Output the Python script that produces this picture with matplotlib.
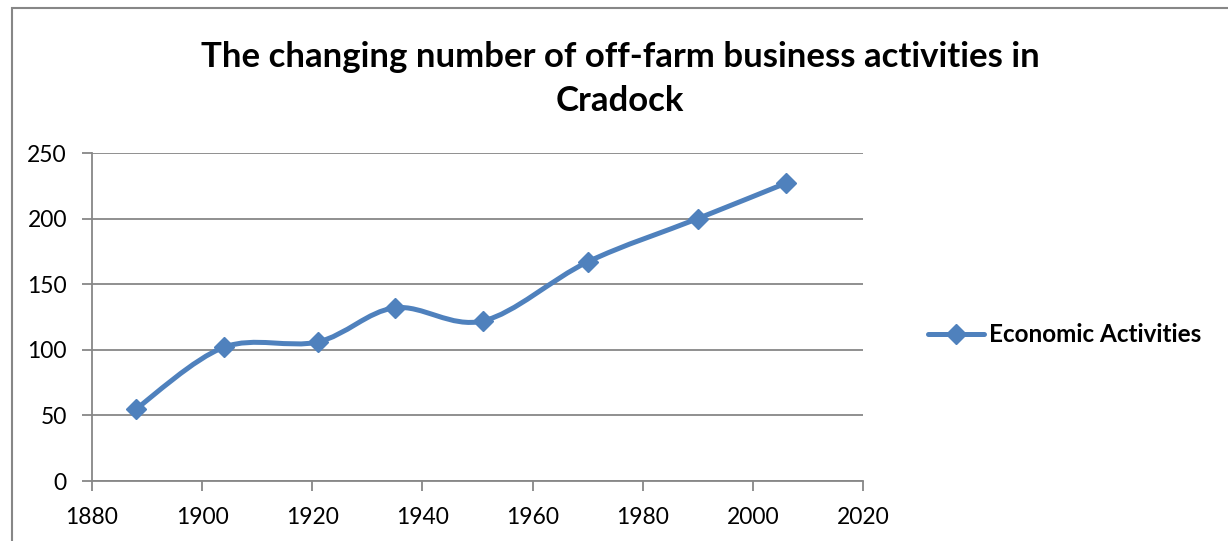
import matplotlib
matplotlib.use("Agg")
import matplotlib.pyplot as plt
from matplotlib.path import Path
from matplotlib.patches import PathPatch, Rectangle
from matplotlib.lines import Line2D

years = [1888, 1904, 1921, 1935, 1951, 1970, 1990, 2006]
activities = [55, 102, 106, 132, 122, 167, 200, 227]
series_name = "Economic Activities"
title = "The changing number of off-farm business activities in\nCradock"
xticks = [1880, 1900, 1920, 1940, 1960, 1980, 2000, 2020]
yticks = [0, 50, 100, 150, 200, 250]

plt.rcParams['font.family'] = ['Lato', 'DejaVu Sans']
W, H = 1228, 541
fig = plt.figure(figsize=(W / 100, H / 100), dpi=100)
fig.patch.set_facecolor('white')

# outer chart frame
fig.patches.append(Rectangle((12 / W, -0.05), 1.2, 1 - 8 / H + 0.05, transform=fig.transFigure,
                             fill=False, edgecolor='#878787', linewidth=1.5))

ax = fig.add_axes([92 / W, (H - 481) / H, 771 / W, 328 / H])
ax.set_xlim(1880, 2020)
ax.set_ylim(0, 250)
ax.set_xticks(xticks)
ax.set_yticks(yticks)
grid_c = '#878787'
ax.grid(axis='y', color=grid_c, linewidth=1.3)
ax.set_axisbelow(True)
for s in ['top', 'right']:
    ax.spines[s].set_visible(False)
for s in ['left', 'bottom']:
    ax.spines[s].set_color(grid_c)
    ax.spines[s].set_linewidth(1.3)
ax.tick_params(direction='out', length=7, width=1.3, color=grid_c, labelsize=16.5)
ax.tick_params(axis='x', pad=12)
ax.tick_params(axis='y', pad=11)

color = '#4F81BD'
# smoothed line (Catmull-Rom style Bezier through the data points)
pts = list(zip(years, activities))
verts = [pts[0]]
codes = [Path.MOVETO]
n = len(pts)
for i in range(n - 1):
    p0 = pts[i - 1] if i > 0 else pts[i]
    p1 = pts[i]
    p2 = pts[i + 1]
    p3 = pts[i + 2] if i + 2 < n else pts[i + 1]
    c1 = (p1[0] + (p2[0] - p0[0]) / 6, p1[1] + (p2[1] - p0[1]) / 6)
    c2 = (p2[0] - (p3[0] - p1[0]) / 6, p2[1] - (p3[1] - p1[1]) / 6)
    verts += [c1, c2, p2]
    codes += [Path.CURVE4] * 3
ax.add_patch(PathPatch(Path(verts, codes), fill=False, edgecolor=color, linewidth=3.6,
                       capstyle='round', joinstyle='round', zorder=3))
ax.plot(years, activities, linestyle='none', marker='D', markersize=10, color=color, zorder=4)

handle = Line2D([], [], color=color, linewidth=3.6, marker='D', markersize=10,
                solid_capstyle='round')
leg = fig.legend([handle], [series_name], loc='center left',
                 bbox_to_anchor=(928 / W, 1 - 335 / H), frameon=False,
                 handlelength=2.3, handletextpad=0.2, borderpad=0, borderaxespad=0,
                 prop={'weight': 'bold', 'size': 17.5})

fig.text(620 / W, 1 - 79 / H, title, ha='center', va='center', fontsize=25,
         fontweight='bold', linespacing=1.45)

fig.savefig('out.png', dpi=100)
